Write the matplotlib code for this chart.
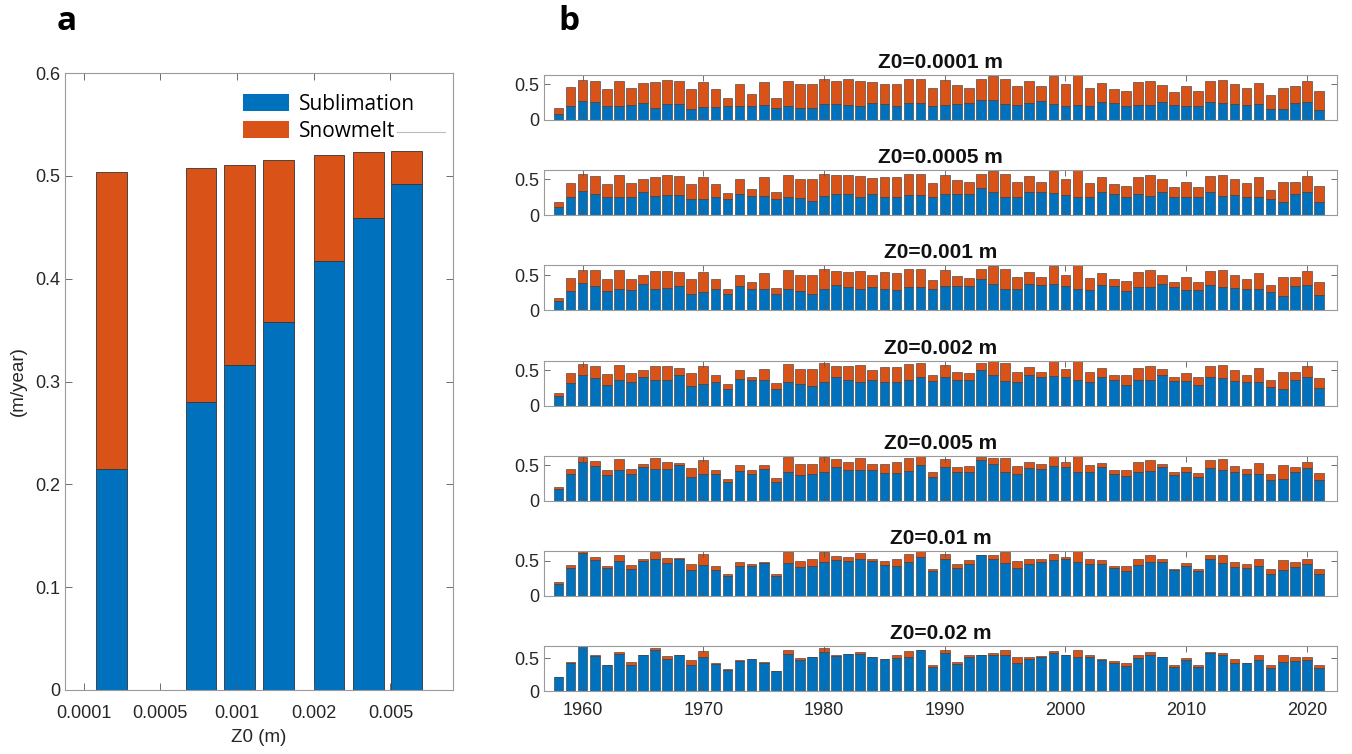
import numpy as np
import matplotlib.pyplot as plt

plt.rcParams['font.family'] = ['Liberation Sans', 'DejaVu Sans']

blue = '#0072BD'
orange = '#D95319'

# ---- panel a: mean over the period for each roughness length
z0_ticks = [0, 1, 2, 3, 4]
z0_labels = ['0.0001', '0.0005', '0.001', '0.002', '0.005']
z0_x = [0.36, 1.53, 2.03, 2.54, 3.20, 3.71, 4.21]
subl_mean = [0.215, 0.280, 0.316, 0.358, 0.417, 0.459, 0.492]
total_mean = [0.504, 0.508, 0.511, 0.515, 0.520, 0.523, 0.524]

# ---- panel b: yearly values, sublimation and total (sublimation + snowmelt)
years = np.arange(1958, 2022)

sub_1 = [0.08, 0.19, 0.26, 0.25, 0.20, 0.19, 0.21, 0.24, 0.17, 0.22, 0.22, 0.16, 0.18, 0.18, 0.19, 0.20,
         0.19, 0.21, 0.17, 0.19, 0.17, 0.17, 0.22, 0.23, 0.21, 0.20, 0.24, 0.22, 0.20, 0.24, 0.24, 0.19,
         0.21, 0.23, 0.24, 0.28, 0.28, 0.22, 0.21, 0.24, 0.26, 0.23, 0.20, 0.21, 0.20, 0.25, 0.24, 0.19,
         0.21, 0.21, 0.25, 0.21, 0.19, 0.19, 0.25, 0.24, 0.22, 0.21, 0.22, 0.16, 0.16, 0.24, 0.25, 0.14]
tot_1 = [0.17, 0.46, 0.56, 0.55, 0.43, 0.55, 0.45, 0.52, 0.53, 0.56, 0.55, 0.44, 0.53, 0.43, 0.31, 0.50,
         0.36, 0.53, 0.31, 0.54, 0.50, 0.50, 0.58, 0.55, 0.58, 0.55, 0.53, 0.51, 0.51, 0.58, 0.57, 0.45,
         0.56, 0.49, 0.45, 0.57, 0.61, 0.57, 0.47, 0.55, 0.47, 0.61, 0.51, 0.63, 0.45, 0.52, 0.43, 0.40,
         0.53, 0.55, 0.49, 0.39, 0.47, 0.40, 0.54, 0.56, 0.51, 0.45, 0.52, 0.35, 0.45, 0.47, 0.55, 0.41]

sub_2 = [0.12, 0.25, 0.34, 0.30, 0.25, 0.25, 0.26, 0.32, 0.27, 0.28, 0.28, 0.22, 0.22, 0.25, 0.22, 0.29,
         0.27, 0.27, 0.22, 0.25, 0.24, 0.20, 0.27, 0.30, 0.29, 0.26, 0.29, 0.25, 0.25, 0.28, 0.28, 0.26,
         0.30, 0.30, 0.30, 0.38, 0.33, 0.26, 0.26, 0.33, 0.32, 0.31, 0.28, 0.26, 0.25, 0.33, 0.30, 0.25,
         0.29, 0.27, 0.32, 0.26, 0.25, 0.25, 0.33, 0.27, 0.28, 0.26, 0.26, 0.22, 0.18, 0.29, 0.32, 0.18]
tot_2 = [0.18, 0.45, 0.57, 0.55, 0.44, 0.56, 0.45, 0.51, 0.54, 0.56, 0.55, 0.44, 0.54, 0.43, 0.31, 0.51,
         0.37, 0.53, 0.32, 0.56, 0.51, 0.51, 0.58, 0.56, 0.56, 0.55, 0.52, 0.54, 0.53, 0.58, 0.58, 0.45,
         0.56, 0.49, 0.46, 0.58, 0.62, 0.58, 0.47, 0.55, 0.47, 0.62, 0.51, 0.63, 0.45, 0.53, 0.43, 0.41,
         0.54, 0.56, 0.50, 0.39, 0.46, 0.40, 0.55, 0.56, 0.51, 0.45, 0.53, 0.35, 0.46, 0.47, 0.55, 0.41]

sub_3 = [0.13, 0.28, 0.39, 0.34, 0.27, 0.30, 0.29, 0.37, 0.31, 0.32, 0.35, 0.24, 0.26, 0.30, 0.24, 0.34,
         0.30, 0.30, 0.24, 0.30, 0.27, 0.24, 0.31, 0.36, 0.33, 0.31, 0.33, 0.30, 0.29, 0.33, 0.33, 0.31,
         0.35, 0.34, 0.34, 0.44, 0.38, 0.31, 0.30, 0.38, 0.36, 0.37, 0.35, 0.31, 0.29, 0.36, 0.34, 0.27,
         0.33, 0.33, 0.38, 0.33, 0.29, 0.29, 0.36, 0.33, 0.32, 0.30, 0.30, 0.26, 0.21, 0.34, 0.36, 0.22]
tot_3 = [0.18, 0.46, 0.58, 0.57, 0.45, 0.58, 0.45, 0.51, 0.56, 0.56, 0.55, 0.45, 0.55, 0.44, 0.31, 0.51,
         0.40, 0.53, 0.32, 0.57, 0.51, 0.51, 0.59, 0.56, 0.55, 0.56, 0.50, 0.55, 0.53, 0.59, 0.59, 0.43,
         0.58, 0.49, 0.46, 0.59, 0.63, 0.59, 0.48, 0.55, 0.47, 0.63, 0.51, 0.64, 0.46, 0.53, 0.44, 0.42,
         0.55, 0.57, 0.51, 0.41, 0.47, 0.41, 0.56, 0.58, 0.51, 0.45, 0.53, 0.36, 0.47, 0.48, 0.56, 0.40]

sub_4 = [0.14, 0.32, 0.44, 0.39, 0.30, 0.36, 0.33, 0.41, 0.37, 0.37, 0.43, 0.28, 0.31, 0.33, 0.24, 0.38,
         0.36, 0.36, 0.24, 0.34, 0.31, 0.28, 0.34, 0.41, 0.37, 0.34, 0.37, 0.33, 0.33, 0.36, 0.40, 0.35,
         0.40, 0.37, 0.37, 0.51, 0.44, 0.35, 0.33, 0.43, 0.40, 0.42, 0.40, 0.36, 0.34, 0.41, 0.36, 0.30,
         0.36, 0.37, 0.43, 0.35, 0.35, 0.30, 0.41, 0.39, 0.35, 0.34, 0.33, 0.27, 0.24, 0.37, 0.40, 0.25]
tot_4 = [0.18, 0.46, 0.59, 0.57, 0.45, 0.58, 0.46, 0.51, 0.57, 0.56, 0.53, 0.46, 0.56, 0.44, 0.31, 0.50,
         0.40, 0.52, 0.32, 0.59, 0.52, 0.52, 0.60, 0.57, 0.56, 0.58, 0.50, 0.55, 0.55, 0.59, 0.61, 0.43,
         0.58, 0.48, 0.47, 0.60, 0.63, 0.60, 0.48, 0.55, 0.48, 0.64, 0.52, 0.64, 0.48, 0.54, 0.43, 0.43,
         0.54, 0.57, 0.52, 0.40, 0.47, 0.40, 0.56, 0.58, 0.50, 0.44, 0.53, 0.37, 0.48, 0.48, 0.56, 0.39]

sub_5 = [0.16, 0.38, 0.54, 0.49, 0.36, 0.43, 0.37, 0.47, 0.44, 0.44, 0.50, 0.34, 0.37, 0.37, 0.26, 0.42,
         0.37, 0.44, 0.27, 0.40, 0.36, 0.37, 0.40, 0.48, 0.43, 0.43, 0.43, 0.39, 0.39, 0.42, 0.50, 0.34,
         0.47, 0.40, 0.41, 0.57, 0.51, 0.41, 0.37, 0.46, 0.45, 0.49, 0.47, 0.40, 0.40, 0.47, 0.37, 0.35,
         0.41, 0.42, 0.48, 0.36, 0.40, 0.33, 0.46, 0.43, 0.40, 0.38, 0.37, 0.29, 0.30, 0.40, 0.46, 0.29]
tot_5 = [0.19, 0.45, 0.61, 0.56, 0.43, 0.59, 0.45, 0.52, 0.60, 0.55, 0.53, 0.46, 0.57, 0.43, 0.31, 0.50,
         0.43, 0.50, 0.32, 0.61, 0.52, 0.52, 0.61, 0.58, 0.55, 0.60, 0.52, 0.52, 0.55, 0.60, 0.63, 0.40,
         0.59, 0.47, 0.49, 0.61, 0.60, 0.60, 0.49, 0.54, 0.52, 0.63, 0.54, 0.63, 0.50, 0.53, 0.43, 0.43,
         0.54, 0.57, 0.52, 0.41, 0.47, 0.39, 0.57, 0.59, 0.49, 0.44, 0.53, 0.37, 0.50, 0.48, 0.55, 0.39]

sub_6 = [0.17, 0.40, 0.61, 0.51, 0.40, 0.50, 0.38, 0.50, 0.52, 0.47, 0.53, 0.37, 0.44, 0.37, 0.29, 0.43,
         0.43, 0.47, 0.29, 0.47, 0.41, 0.43, 0.48, 0.51, 0.50, 0.52, 0.50, 0.44, 0.43, 0.48, 0.56, 0.35,
         0.53, 0.40, 0.45, 0.58, 0.53, 0.47, 0.40, 0.46, 0.48, 0.51, 0.52, 0.48, 0.45, 0.45, 0.40, 0.36,
         0.44, 0.48, 0.48, 0.37, 0.43, 0.35, 0.52, 0.47, 0.41, 0.40, 0.42, 0.32, 0.37, 0.41, 0.46, 0.32]
tot_6 = [0.20, 0.44, 0.64, 0.55, 0.42, 0.59, 0.44, 0.53, 0.62, 0.54, 0.54, 0.45, 0.60, 0.42, 0.32, 0.49,
         0.45, 0.48, 0.32, 0.62, 0.50, 0.53, 0.62, 0.57, 0.55, 0.61, 0.53, 0.50, 0.53, 0.60, 0.64, 0.39,
         0.60, 0.46, 0.51, 0.59, 0.59, 0.62, 0.50, 0.53, 0.53, 0.60, 0.56, 0.64, 0.52, 0.51, 0.43, 0.43,
         0.53, 0.58, 0.52, 0.39, 0.47, 0.39, 0.59, 0.58, 0.49, 0.45, 0.53, 0.38, 0.51, 0.49, 0.53, 0.38]

sub_7 = [0.21, 0.42, 0.68, 0.53, 0.39, 0.56, 0.39, 0.54, 0.63, 0.49, 0.54, 0.40, 0.51, 0.41, 0.32, 0.45,
         0.48, 0.43, 0.31, 0.56, 0.47, 0.51, 0.59, 0.53, 0.56, 0.56, 0.51, 0.49, 0.50, 0.52, 0.62, 0.37,
         0.58, 0.41, 0.51, 0.55, 0.55, 0.55, 0.43, 0.49, 0.51, 0.58, 0.55, 0.52, 0.51, 0.47, 0.43, 0.38,
         0.50, 0.55, 0.51, 0.37, 0.47, 0.37, 0.57, 0.54, 0.43, 0.43, 0.47, 0.35, 0.44, 0.45, 0.47, 0.35]
tot_7 = [0.21, 0.44, 0.68, 0.54, 0.40, 0.59, 0.44, 0.54, 0.65, 0.53, 0.55, 0.47, 0.61, 0.42, 0.33, 0.47,
         0.49, 0.44, 0.31, 0.63, 0.50, 0.52, 0.66, 0.55, 0.56, 0.59, 0.52, 0.49, 0.54, 0.61, 0.63, 0.39,
         0.62, 0.44, 0.55, 0.55, 0.58, 0.62, 0.51, 0.52, 0.53, 0.61, 0.55, 0.63, 0.55, 0.48, 0.45, 0.43,
         0.55, 0.59, 0.52, 0.39, 0.50, 0.39, 0.59, 0.57, 0.49, 0.43, 0.54, 0.40, 0.54, 0.51, 0.51, 0.39]

z0_names = ['0.0001', '0.0005', '0.001', '0.002', '0.005', '0.01', '0.02']
subs = [sub_1, sub_2, sub_3, sub_4, sub_5, sub_6, sub_7]
tots = [tot_1, tot_2, tot_3, tot_4, tot_5, tot_6, tot_7]

spine_c = '#9a9a9a'
text_c = '#262626'

W, H = 1352, 754
fig = plt.figure(figsize=(W / 100, H / 100), dpi=100)


def style_axes(ax, fs):
    for s in ax.spines.values():
        s.set_color(spine_c)
        s.set_linewidth(0.8)
    ax.tick_params(direction='in', top=True, right=True, color='#555555',
                   labelcolor=text_c, labelsize=fs, width=0.6)


# panel a
axa = fig.add_axes([65 / W, 1 - 690 / H, 388 / W, 617 / H])
snow_mean = np.array(total_mean) - np.array(subl_mean)
axa.bar(z0_x, subl_mean, width=0.4, color=blue, edgecolor='#333333', linewidth=0.6, label='Sublimation')
axa.bar(z0_x, snow_mean, width=0.4, bottom=subl_mean, color=orange, edgecolor='#333333',
        linewidth=0.6, label='Snowmelt')
axa.set_xlim(-0.243, 4.816)
axa.set_ylim(0, 0.6)
axa.set_xticks(z0_ticks)
axa.set_xticklabels(z0_labels)
axa.set_yticks(np.arange(0, 0.61, 0.1))
axa.set_yticklabels(['0', '0.1', '0.2', '0.3', '0.4', '0.5', '0.6'])
style_axes(axa, 13)
axa.tick_params(length=5)
axa.tick_params(axis='x', pad=11)
axa.set_xlabel('Z0 (m)', fontsize=13.5, color=text_c, labelpad=5)
axa.set_ylabel('(m/year)', fontsize=13.5, color=text_c, labelpad=6)
leg = axa.legend(loc='upper right', bbox_to_anchor=(0.951, 0.997), frameon=False,
                 prop={'family': 'Open Sans', 'size': 15}, handlelength=2.2, handleheight=0.85,
                 labelspacing=0.3, handletextpad=0.5)
for p in leg.get_patches():
    p.set_edgecolor('none')
axa.plot([0.856, 0.979], [0.904, 0.904], transform=axa.transAxes, color='#bbbbbb', lw=0.8)

# panel b
for i in range(7):
    bottom_px = 120 + 95.2 * i
    ax = fig.add_axes([544 / W, 1 - bottom_px / H, 793 / W, 45 / H])
    sub = np.array(subs[i])
    tot = np.array(tots[i])
    ax.bar(years, sub, width=0.8, color=blue, edgecolor='#333333', linewidth=0.4)
    ax.bar(years, tot - sub, width=0.8, bottom=sub, color=orange, edgecolor='#333333', linewidth=0.4)
    ax.set_xlim(1956.8, 2022.5)
    ax.set_ylim(0, tot.max())
    ax.set_yticks([0, 0.5])
    ax.set_yticklabels(['0', '0.5'])
    ax.set_xticks(np.arange(1960, 2021, 10))
    style_axes(ax, 13)
    ax.tick_params(length=4)
    ax.tick_params(axis='x', pad=7.5)
    if i < 6:
        ax.tick_params(labelbottom=False)
    ax.set_title('Z0=' + z0_names[i] + ' m', fontsize=15, fontweight='bold', pad=5, color='#111111')

fig.text(67 / W, 1 - 22 / H, 'a', fontsize=24, fontweight='bold', family='Open Sans', ha='center', va='center')
fig.text(569 / W, 1 - 22 / H, 'b', fontsize=24, fontweight='bold', family='Open Sans', ha='center', va='center')

fig.savefig('out.png', dpi=100)
